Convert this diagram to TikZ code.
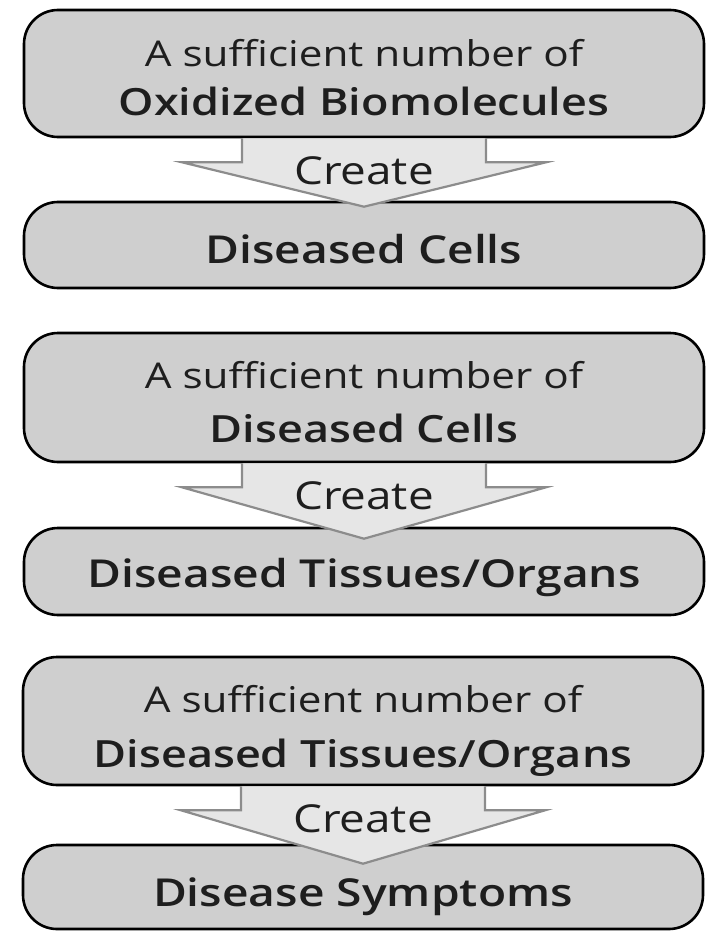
\documentclass[tikz,border=0pt]{standalone}
\usepackage{fontspec}
\setmainfont{Open Sans}[FakeStretch=1.19]
\IfFontExistsTF{Open Sans Semibold}{\newfontfamily\heavyline{Open Sans Semibold}[FakeStretch=1.2]}{\newfontfamily\heavyline{Open Sans}[FakeBold=0.8,FakeStretch=1.2]}
\usetikzlibrary{positioning,calc}
\definecolor{boxgray}{HTML}{CFCFCF}
\definecolor{arrowfill}{HTML}{E6E6E6}
\definecolor{arrowline}{HTML}{8C8C8C}
\definecolor{inkdark}{HTML}{1E1E1E}

\begin{document}
\begin{tikzpicture}[x=1pt,y=-1pt,
  stage/.style={draw=black,line width=2.6pt,fill=boxgray,rounded corners=34pt,minimum width=680pt,inner sep=0pt},
  txt/.style={anchor=base,text=inkdark,inner sep=0pt,font=\fontsize{35.5}{40}\selectfont},
  key/.style={txt,font=\fontsize{37.5}{40}\heavyline},
  last/.style={txt,font=\fontsize{38.5}{40}\heavyline},
  flow/.style={draw=arrowline,line width=2.2pt,fill=arrowfill,line join=miter}]
\useasboundingbox (0,0) rectangle (706,931);
% lower boxes first, the arrows sit on them
\node[stage,minimum height=86pt] (b1) at (364,245) {};
\node[stage,minimum height=87pt] (b2) at (364,571.5) {};
\node[stage,minimum height=84pt] (b3) at (363,887) {};
\node[stage,minimum height=127pt] (t1) at (364,73.5) {};
\node[stage,minimum height=129pt] (t2) at (364,397.5) {};
\node[stage,minimum height=128pt] (t3) at (363,721) {};
% arrows between the stages
\foreach \g/\tip in {1/6,2/12,3/20}{
  \draw[flow] ($(t\g.south)+(-122,0)$) -- ++(0,24) -- ++(-60,0) -- ($(b\g.north)+(0,\tip)$)
    -- ($(t\g.south)+(182,24)$) -- ++(-60,0) -- ($(t\g.south)+(122,0)$);
  \node[txt,font=\fontsize{38.5}{40}\selectfont] (c\g) at ($(t\g.south)+(0,46)$) {Create};}
% texts
\node[txt] (t1a) at ($(t1)+(0,-7)$) {A sufficient number of};
\node[key] (t1b) at ($(t1)+(0,42)$) {Oxidized Biomolecules};
\node[last] (b1a) at ($(b1)+(0,18)$) {Diseased Cells};
\node[txt] (t2a) at ($(t2)+(0,-9)$) {A sufficient number of};
\node[key] (t2b) at ($(t2)+(0,45)$) {Diseased Cells};
\node[last] (b2a) at ($(b2)+(0,16)$) {Diseased Tissues/Organs};
\node[txt] (t3a) at ($(t3)+(0,-9)$) {A sufficient number of};
\node[key] (t3b) at ($(t3)+(0,46)$) {Diseased Tissues/Organs};
\node[last] (b3a) at ($(b3)+(0,19)$) {Disease Symptoms};
\end{tikzpicture}
\end{document}
